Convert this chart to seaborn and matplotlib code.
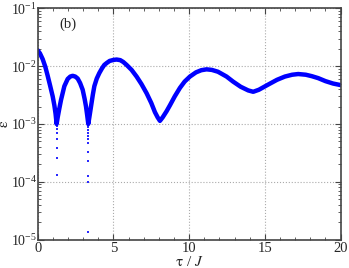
import numpy as np
import pandas as pd
import matplotlib
matplotlib.use("Agg")
import matplotlib.pyplot as plt
import matplotlib.ticker as mticker
import seaborn as sns

# main curve
tau_curve = [0.0, 0.15, 0.33, 0.50, 0.66, 0.82, 0.99, 1.10, 1.18, 1.25,
             1.32, 1.42, 1.54, 1.76, 1.98, 2.15, 2.31, 2.48, 2.64, 2.80,
             2.97, 3.10, 3.19, 3.27, 3.34, 3.41, 3.52, 3.64, 3.74, 3.90,
             4.07, 4.25, 4.40, 4.55, 4.75, 5.00, 5.21, 5.45, 5.65, 5.87,
             6.20, 6.53, 6.85, 7.19, 7.50, 7.74, 7.92, 8.07, 8.25, 8.51,
             8.73, 9.05, 9.39, 9.70, 10.05, 10.45, 10.80, 11.15, 11.50, 11.90,
             12.47, 12.90, 13.40, 13.90, 14.23, 14.60, 15.22, 15.80, 16.32, 16.80,
             17.20, 17.70, 18.10, 18.52, 19.00, 19.50, 20.00]
eps_curve = [0.0188, 0.0166, 0.0132, 0.0098, 0.0068, 0.0046, 0.0030, 0.0021, 0.0015, 0.0010,
             0.0013, 0.0018, 0.0026, 0.0045, 0.0060, 0.0066, 0.0068, 0.0066, 0.0061, 0.0051,
             0.0039, 0.0027, 0.0020, 0.0014, 0.0010, 0.0013, 0.0020, 0.0032, 0.0045, 0.0061,
             0.0076, 0.0092, 0.0105, 0.0113, 0.0123, 0.0128, 0.0130, 0.0127, 0.0118, 0.0105,
             0.0086, 0.0066, 0.0049, 0.0034, 0.0023, 0.0016, 0.0013, 0.00113, 0.0013, 0.00166,
             0.0021, 0.0030, 0.0042, 0.0054, 0.0066, 0.0078, 0.0085, 0.0088, 0.0086, 0.0080,
             0.0066, 0.0054, 0.0044, 0.0038, 0.0036, 0.0039, 0.0048, 0.0058, 0.0066, 0.0071,
             0.0073, 0.0071, 0.0067, 0.0062, 0.0055, 0.0050, 0.0047]

# sparse sampled points near the two zeros
tau_dip = [1.25] * 7 + [3.34] * 12
eps_dip = [9.3e-4, 8.2e-4, 6.9e-4, 5.5e-4, 3.9e-4, 2.6e-4, 1.3e-4,
           9.5e-4, 8.9e-4, 7.9e-4, 6.9e-4, 6.3e-4, 5.5e-4, 4.6e-4, 3.3e-4,
           2.3e-4, 1.26e-4, 1.0e-4, 1.35e-5]

curve = pd.DataFrame({"tau": tau_curve, "eps": eps_curve})
dips = pd.DataFrame({"tau": tau_dip, "eps": eps_dip})

sns.set_theme(style="ticks")
plt.rcParams["font.family"] = ["Liberation Serif", "DejaVu Serif"]
plt.rcParams["mathtext.fontset"] = "stix"

fig = plt.figure(figsize=(3.49, 2.68), dpi=100)
ax = fig.add_axes([0.108, 0.106, 0.868, 0.863])

sns.lineplot(data=curve, x="tau", y="eps", ax=ax, color="#0000ff",
             linewidth=3.2, estimator=None, sort=False)
sns.scatterplot(data=dips, x="tau", y="eps", ax=ax, color="#2a2aff",
                marker="s", s=4, linewidth=0)

ax.set_yscale("log")
ax.set_xlim(0, 20)
ax.set_ylim(1e-5, 1e-1)

ax.xaxis.set_major_locator(mticker.MultipleLocator(5))
ax.xaxis.set_minor_locator(mticker.MultipleLocator(1))
ax.yaxis.set_major_locator(mticker.LogLocator(base=10, numticks=10))
ax.yaxis.set_minor_locator(mticker.LogLocator(base=10, subs=np.arange(2, 10), numticks=20))
ax.yaxis.set_minor_formatter(mticker.NullFormatter())

ax.grid(True, which="major", color="#aaaaaa", linestyle=":", linewidth=0.8)
ax.tick_params(which="both", direction="in", top=True, right=True,
               labelsize=10.5, color="#444444", pad=2)
ax.tick_params(axis="y", which="major", labelsize=10, pad=0.5)
ax.tick_params(which="major", length=4, width=0.8)
ax.tick_params(which="minor", length=2, width=0.6)
for sp in ax.spines.values():
    sp.set_color("#444444")
    sp.set_linewidth(1.2)

ax.set_xlabel(r"$\mathrm{\tau}$ / $J$", fontsize=11, labelpad=0)
ax.set_ylabel(r"$\mathrm{\varepsilon}$", fontsize=11)
ax.yaxis.set_label_coords(-0.088, 0.5)
ax.text(0.10, 0.93, "(b)", transform=ax.transAxes, fontsize=10.5,
        ha="center", va="center")

fig.savefig("out.png", dpi=100)
